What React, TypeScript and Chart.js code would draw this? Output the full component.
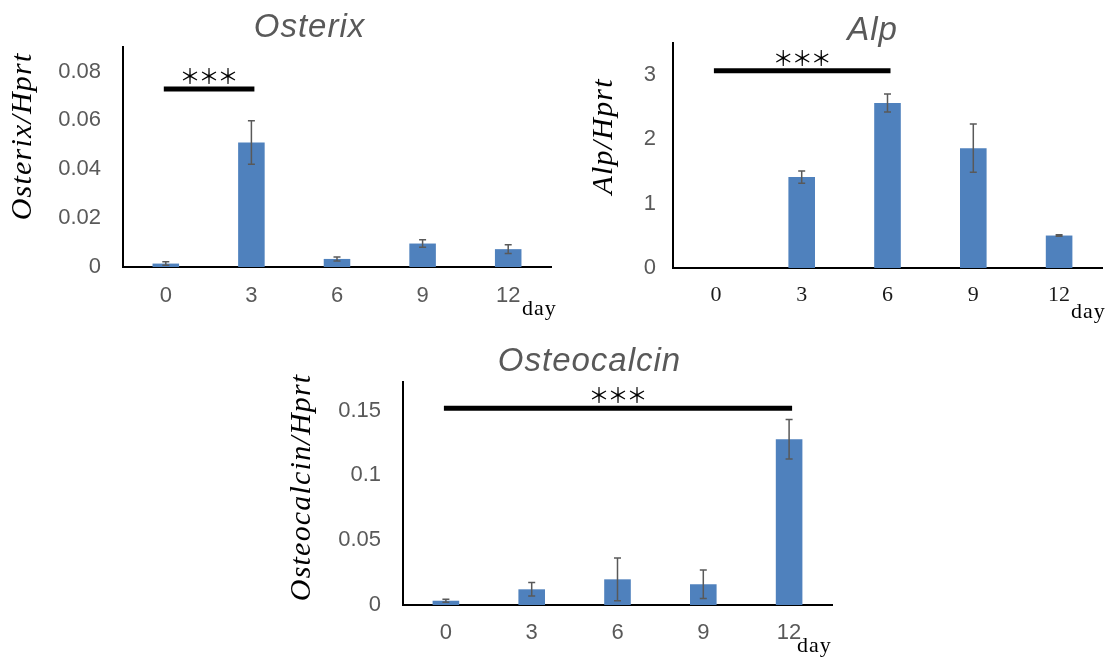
import React, { useEffect, useRef } from 'react';
import { Chart, registerables } from 'chart.js';

Chart.register(...registerables);

// ---------------- data ----------------
const days = ['0', '3', '6', '9', '12'];

const osterixMean = [0.0014, 0.0509, 0.0033, 0.0096, 0.0073];
const osterixErr = [0.0007, 0.0089, 0.0008, 0.0015, 0.0018];
const osterixTicks = [0, 0.02, 0.04, 0.06, 0.08];
const osterixMax = 0.09;
const osterixSig = ['0', '3'];
const osterixSigLevel = 0.0728;

const alpMean = [0, 1.415, 2.567, 1.864, 0.505];
const alpErr = [0, 0.095, 0.14, 0.375, 0.012];
const alpTicks = [0, 1, 2, 3];
const alpMax = 3.5;
const alpSig = ['0', '6'];
const alpSigLevel = 3.07;

const osteocalcinMean = [0.0033, 0.0121, 0.0198, 0.016, 0.1278];
const osteocalcinErr = [0.0011, 0.0052, 0.0165, 0.011, 0.0152];
const osteocalcinTicks = [0, 0.05, 0.1, 0.15];
const osteocalcinMax = 0.172;
const osteocalcinSig = ['0', '12'];
const osteocalcinSigLevel = 0.1517;

// ---------------- layout / style ----------------
type Panel = {
  title: string;
  yTitle: string;
  mean: number[];
  err: number[];
  ticks: number[];
  max: number;
  sig: string[];
  sigLevel: number;
  box: { left: number; top: number; width: number; height: number };
  area: { left: number; right: number; top: number; bottom: number };
  titleX: number;
  titleY: number;
  yTitleX: number;
  yTitleY: number;
  dayX: number;
  dayY: number;
  yPad: number;
  xPad: number;
  xSerif: boolean;
};

const panels: Panel[] = [
  {
    title: 'Osterix',
    yTitle: 'Osterix/Hprt',
    mean: osterixMean,
    err: osterixErr,
    ticks: osterixTicks,
    max: osterixMax,
    sig: osterixSig,
    sigLevel: osterixSigLevel,
    box: { left: 0, top: 0, width: 560, height: 330 },
    area: { left: 123, right: 551, top: 47, bottom: 267 },
    titleX: 309,
    titleY: 37,
    yTitleX: 31,
    yTitleY: 137,
    dayX: 522,
    dayY: 315,
    yPad: 22,
    xPad: 16,
    xSerif: false,
  },
  {
    title: 'Alp',
    yTitle: 'Alp/Hprt',
    mean: alpMean,
    err: alpErr,
    ticks: alpTicks,
    max: alpMax,
    sig: alpSig,
    sigLevel: alpSigLevel,
    box: { left: 580, top: 0, width: 536, height: 330 },
    area: { left: 93, right: 522, top: 43, bottom: 268 },
    titleX: 292,
    titleY: 40,
    yTitleX: 32,
    yTitleY: 137,
    dayX: 491,
    dayY: 318,
    yPad: 17,
    xPad: 14,
    xSerif: true,
  },
  {
    title: 'Osteocalcin',
    yTitle: 'Osteocalcin/Hprt',
    mean: osteocalcinMean,
    err: osteocalcinErr,
    ticks: osteocalcinTicks,
    max: osteocalcinMax,
    sig: osteocalcinSig,
    sigLevel: osteocalcinSigLevel,
    box: { left: 280, top: 335, width: 560, height: 328 },
    area: { left: 123, right: 552, top: 47, bottom: 270 },
    titleX: 309,
    titleY: 36,
    yTitleX: 30,
    yTitleY: 153,
    dayX: 517,
    dayY: 317,
    yPad: 22,
    xPad: 15,
    xSerif: false,
  },
];

const BAR_COLOR = '#4F81BD';
const GRAY = '#595959';

function makeOverlay(p: Panel) {
  return {
    id: 'overlay',
    afterDatasetsDraw(chart: any) {
      const ctx = chart.ctx as CanvasRenderingContext2D;
      const meta = chart.getDatasetMeta(0);
      const ys = chart.scales.y;
      ctx.save();
      ctx.strokeStyle = GRAY;
      ctx.lineWidth = 1.5;
      meta.data.forEach((bar: any, i: number) => {
        const e = p.err[i];
        const m = p.mean[i];
        if (!e) return;
        const yt = ys.getPixelForValue(m + e);
        const yb = ys.getPixelForValue(Math.max(0, m - e));
        ctx.beginPath();
        ctx.moveTo(bar.x, yt);
        ctx.lineTo(bar.x, yb);
        ctx.moveTo(bar.x - 3.5, yt);
        ctx.lineTo(bar.x + 3.5, yt);
        ctx.moveTo(bar.x - 3.5, yb);
        ctx.lineTo(bar.x + 3.5, yb);
        ctx.stroke();
      });
      ctx.restore();
    },
    afterDraw(chart: any) {
      const ctx = chart.ctx as CanvasRenderingContext2D;
      const xs = chart.scales.x;
      const ys = chart.scales.y;
      ctx.save();

      // chart title
      ctx.font = 'italic 33px "Liberation Sans"';
      ctx.fillStyle = GRAY;
      ctx.textAlign = 'center';
      ctx.textBaseline = 'alphabetic';
      (ctx as any).letterSpacing = '1px';
      ctx.fillText(p.title, p.titleX + 0.5, p.titleY);

      // y-axis title
      ctx.save();
      ctx.translate(p.yTitleX, p.yTitleY);
      ctx.rotate(-Math.PI / 2);
      ctx.font = 'italic 30px "Liberation Serif"';
      ctx.fillStyle = '#000';
      (ctx as any).letterSpacing = '1.2px';
      ctx.textAlign = 'center';
      ctx.fillText(p.yTitle, 0.6, 0);
      ctx.restore();

      // "day"
      ctx.font = '22px "Liberation Serif"';
      (ctx as any).letterSpacing = '1px';
      ctx.fillStyle = '#000';
      ctx.textAlign = 'left';
      ctx.fillText('day', p.dayX, p.dayY);

      // significance bar
      const x1 = xs.getPixelForValue(days.indexOf(p.sig[0])) - 2;
      const x2 = xs.getPixelForValue(days.indexOf(p.sig[1])) + 3;
      const yy = ys.getPixelForValue(p.sigLevel);
      ctx.strokeStyle = '#000';
      ctx.lineWidth = 5;
      ctx.beginPath();
      ctx.moveTo(x1, yy);
      ctx.lineTo(x2, yy);
      ctx.stroke();

      ctx.font = '21px "Noto Sans CJK JP"';
      (ctx as any).letterSpacing = '-2px';
      ctx.textAlign = 'center';
      ctx.textBaseline = 'middle';
      ctx.fillStyle = '#000';
      ctx.fillText('＊＊＊', (x1 + x2) / 2 - 1, yy - 13);

      ctx.restore();
    },
  };
}

function PanelChart({ p }: { p: Panel }) {
  const ref = useRef<HTMLCanvasElement | null>(null);
  useEffect(() => {
    if (!ref.current) return;
    const chart = new Chart(ref.current, {
      type: 'bar',
      data: {
        labels: days,
        datasets: [
          {
            data: p.mean,
            backgroundColor: BAR_COLOR,
            borderWidth: 0,
            barPercentage: 0.31,
            categoryPercentage: 1,
          },
        ],
      },
      options: {
        responsive: false,
        animation: false,
        devicePixelRatio: 1,
        layout: {
          padding: {
            left: 0,
            top: p.area.top,
            right: p.box.width - p.area.right,
            bottom: 0,
          },
        },
        plugins: {
          legend: { display: false },
          tooltip: { enabled: false },
          title: { display: false },
        },
        scales: {
          x: {
            type: 'category',
            offset: true,
            grid: { display: false, drawTicks: false },
            border: { display: true, color: '#000', width: 2 },
            ticks: {
              padding: p.xPad,
              autoSkip: false,
              maxRotation: 0,
              color: p.xSerif ? '#1a1a1a' : GRAY,
              font: p.xSerif
                ? { family: '"Liberation Serif"', size: 22 }
                : { family: '"Liberation Sans"', size: 22 },
            },
            afterFit: (s: any) => {
              s.height = p.box.height - p.area.bottom;
            },
          },
          y: {
            min: 0,
            max: p.max,
            grid: { display: false, drawTicks: false },
            border: { display: true, color: '#000', width: 2 },
            afterBuildTicks: (s: any) => {
              s.ticks = p.ticks.map((v) => ({ value: v }));
            },
            afterFit: (s: any) => {
              s.width = p.area.left;
            },
            ticks: {
              padding: p.yPad,
              color: GRAY,
              font: { family: '"Liberation Sans"', size: 22 },
              callback: (v: any) => String(v),
            },
          },
        },
      },
      plugins: [makeOverlay(p)],
    });
    return () => chart.destroy();
  }, [p]);
  return (
    <canvas
      ref={ref}
      width={p.box.width}
      height={p.box.height}
      style={{
        position: 'absolute',
        left: p.box.left,
        top: p.box.top,
        width: p.box.width,
        height: p.box.height,
      }}
    />
  );
}

export default function App() {
  return (
    <div
      style={{
        position: 'absolute',
        left: 0,
        top: 0,
        width: 1116,
        height: 663,
        background: '#fff',
        overflow: 'hidden',
      }}
    >
      {panels.map((p) => (
        <PanelChart key={p.title} p={p} />
      ))}
    </div>
  );
}
